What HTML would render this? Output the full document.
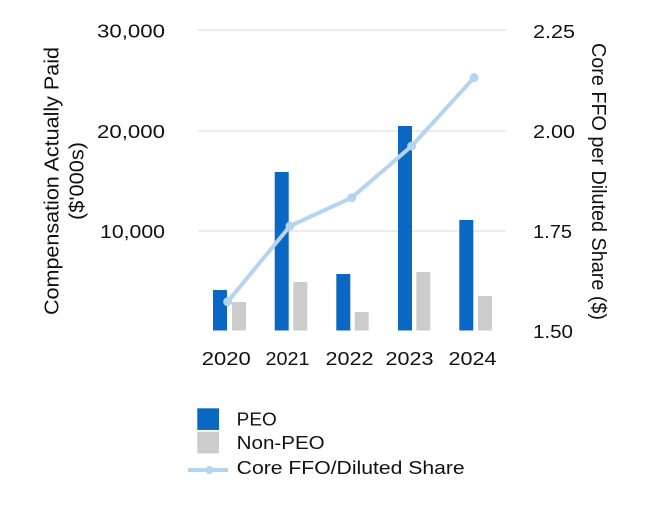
<!DOCTYPE html>
<html>
<head>
<meta charset="utf-8">
<style>
html,body{margin:0;padding:0;background:#fff;}
svg{display:block;}
text{font-family:"Liberation Sans",Arial,sans-serif;fill:#111;}
</style>
</head>
<body>
<svg width="652" height="518" viewBox="0 0 652 518" xmlns="http://www.w3.org/2000/svg">
  <rect width="652" height="518" fill="#fff"/>
  <!-- gridlines -->
  <g stroke="#e6e6e6" stroke-width="1.5">
    <line x1="198" y1="30" x2="506" y2="30"/>
    <line x1="198" y1="131" x2="506" y2="131"/>
    <line x1="198" y1="231" x2="506" y2="231"/>
  </g>
  <!-- PEO bars -->
  <g fill="#0a68c4">
    <rect x="213" y="290" width="14" height="40.5"/>
    <rect x="274.7" y="172" width="14" height="158.5"/>
    <rect x="336.3" y="274" width="14" height="56.5"/>
    <rect x="398" y="126" width="14" height="204.5"/>
    <rect x="459.3" y="220" width="14" height="110.5"/>
  </g>
  <!-- Non-PEO bars -->
  <g fill="#cccccc">
    <rect x="232" y="302" width="14" height="28.5"/>
    <rect x="293.3" y="282" width="14" height="48.5"/>
    <rect x="354.7" y="312" width="14" height="18.5"/>
    <rect x="416.3" y="272" width="14" height="58.5"/>
    <rect x="478" y="296" width="14" height="34.5"/>
  </g>
  <!-- line -->
  <polyline points="227.7,301.7 290,226 351.7,197.7 411.7,146 474,77.7" fill="none" stroke="#b5d4ef" stroke-width="4" stroke-linejoin="round"/>
  <g fill="#b5d4ef">
    <circle cx="227.7" cy="301.7" r="4.5"/>
    <circle cx="290" cy="226" r="4.5"/>
    <circle cx="351.7" cy="197.7" r="4.5"/>
    <circle cx="411.7" cy="146" r="4.5"/>
    <circle cx="474" cy="77.7" r="4.5"/>
  </g>
  <!-- left ticks -->
  <g font-size="18" text-anchor="end">
    <text x="165" y="37.5" textLength="68" lengthAdjust="spacingAndGlyphs">30,000</text>
    <text x="165" y="138" textLength="68" lengthAdjust="spacingAndGlyphs">20,000</text>
    <text x="165" y="238" textLength="65" lengthAdjust="spacingAndGlyphs">10,000</text>
  </g>
  <!-- right ticks -->
  <g font-size="18">
    <text x="533" y="38" textLength="42" lengthAdjust="spacingAndGlyphs">2.25</text>
    <text x="533" y="138" textLength="42" lengthAdjust="spacingAndGlyphs">2.00</text>
    <text x="533" y="238" textLength="39" lengthAdjust="spacingAndGlyphs">1.75</text>
    <text x="533" y="338" textLength="40" lengthAdjust="spacingAndGlyphs">1.50</text>
  </g>
  <!-- x labels -->
  <g font-size="18" text-anchor="middle">
    <text x="226.3" y="365" textLength="49" lengthAdjust="spacingAndGlyphs">2020</text>
    <text x="287.5" y="365" textLength="44" lengthAdjust="spacingAndGlyphs">2021</text>
    <text x="349.5" y="365" textLength="48" lengthAdjust="spacingAndGlyphs">2022</text>
    <text x="409.5" y="365" textLength="48" lengthAdjust="spacingAndGlyphs">2023</text>
    <text x="472.5" y="365" textLength="48" lengthAdjust="spacingAndGlyphs">2024</text>
  </g>
  <!-- left axis title -->
  <text font-size="20" text-anchor="middle" transform="translate(58.5,181) rotate(-90)" textLength="268" lengthAdjust="spacingAndGlyphs">Compensation Actually Paid</text>
  <text font-size="20" text-anchor="middle" transform="translate(83.5,181) rotate(-90)" textLength="78" lengthAdjust="spacingAndGlyphs">($'000s)</text>
  <!-- right axis title -->
  <text font-size="20" text-anchor="middle" transform="translate(592,181.5) rotate(90)" textLength="277" lengthAdjust="spacingAndGlyphs">Core FFO per Diluted Share ($)</text>
  <!-- legend -->
  <rect x="197.3" y="408.3" width="21.7" height="21.7" fill="#0a68c4"/>
  <rect x="197.3" y="431.7" width="21.7" height="21.7" fill="#cccccc"/>
  <line x1="188" y1="470" x2="228" y2="470" stroke="#b5d4ef" stroke-width="4"/>
  <circle cx="209.3" cy="470" r="4" fill="#b5d4ef"/>
  <g font-size="18">
    <text x="236.7" y="425.5" textLength="40" lengthAdjust="spacingAndGlyphs">PEO</text>
    <text x="236.7" y="449" textLength="88" lengthAdjust="spacingAndGlyphs">Non-PEO</text>
    <text x="236.7" y="474" textLength="228" lengthAdjust="spacingAndGlyphs">Core FFO/Diluted Share</text>
  </g>
</svg>
</body>
</html>
